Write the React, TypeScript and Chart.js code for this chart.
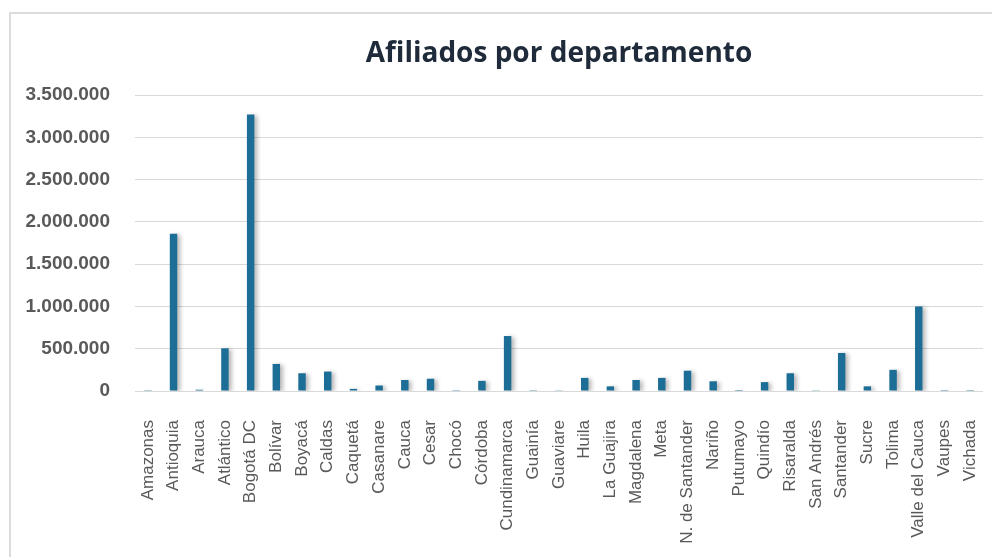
import React, { useEffect, useRef } from "react";
import { Chart, registerables } from "chart.js";

Chart.register(...registerables);

const departamentos: string[] = [
  "Amazonas", "Antioquia", "Arauca", "Atlántico", "Bogotá DC", "Bolívar", "Boyacá", "Caldas",
  "Caquetá", "Casanare", "Cauca", "Cesar", "Chocó", "Córdoba", "Cundinamarca", "Guainía",
  "Guaviare", "Huila", "La Guajira", "Magdalena", "Meta", "N. de Santander", "Nariño",
  "Putumayo", "Quindío", "Risaralda", "San Andrés", "Santander", "Sucre", "Tolima",
  "Valle del Cauca", "Vaupes", "Vichada",
];

const afiliados: number[] = [
  2000, 1860000, 15000, 505000, 3270000, 320000, 210000, 230000,
  25000, 65000, 130000, 145000, 10000, 120000, 650000, 2000,
  3000, 155000, 55000, 130000, 155000, 240000, 115000,
  12000, 105000, 210000, 3000, 450000, 55000, 250000,
  1000000, 1000, 1000,
];

const chartTitle = "Afiliados por departamento";
const yMax = 3500000;
const yStep = 500000;

const fmt = (v: number) => String(Math.round(v)).replace(/\B(?=(\d{3})+(?!\d))/g, ".");

const shadowPlugin = {
  id: "barShadow",
  beforeDatasetsDraw(chart: any) {
    const ctx = chart.ctx;
    ctx.save();
    ctx.shadowColor = "rgba(0,0,0,0.28)";
    ctx.shadowBlur = 4;
    ctx.shadowOffsetX = 3;
    ctx.shadowOffsetY = 1;
  },
  afterDatasetsDraw(chart: any) {
    chart.ctx.restore();
  },
};

export default function App() {
  const ref = useRef<HTMLCanvasElement | null>(null);

  useEffect(() => {
    if (!ref.current) return;
    const chart = new Chart(ref.current, {
      type: "bar",
      data: {
        labels: departamentos,
        datasets: [
          {
            label: "Afiliados",
            data: afiliados,
            backgroundColor: "#1c6e96",
            barPercentage: 0.29,
            categoryPercentage: 1,
          },
        ],
      },
      plugins: [shadowPlugin],
      options: {
        responsive: false,
        animation: false,
        layout: { padding: { left: 10, right: 9, top: 0, bottom: 0 } },
        plugins: {
          legend: { display: false },
          tooltip: { enabled: false },
          title: {
            display: true,
            text: chartTitle,
            fullSize: false,
            color: "#1f2b3a",
            font: { family: "'Open Sans', sans-serif", size: 28, weight: "bold", lineHeight: 1.2 },
            padding: { top: 37, bottom: 24.4 },
          },
        },
        scales: {
          x: {
            grid: { display: false },
            border: { display: false },
            afterFit: (s: any) => {
              s.height = 166;
              s.paddingLeft = 0;
              s.paddingRight = 0;
            },
            ticks: {
              minRotation: 90,
              maxRotation: 90,
              autoSkip: false,
              padding: 21,
              color: "#595959",
              font: { family: "'Liberation Sans', Arial, sans-serif", size: 17 },
            },
          },
          y: {
            min: 0,
            max: yMax,
            afterFit: (s: any) => { s.width = 125; },
            grid: { color: "#d9d9d9", lineWidth: 1, drawTicks: false },
            border: { display: false },
            ticks: {
              stepSize: yStep,
              padding: 25,
              color: "#595959",
              font: { family: "'Liberation Sans', Arial, sans-serif", size: 19, weight: "bold" },
              callback: (v: any) => fmt(Number(v)),
            },
          },
        },
      },
    });
    return () => chart.destroy();
  }, []);

  return (
    <div style={{ position: "absolute", left: 0, top: 0, width: 992, height: 557, background: "#fff", overflow: "hidden" }}>
      <div
        style={{
          position: "absolute",
          left: 9,
          top: 12,
          width: 1000,
          height: 560,
          borderLeft: "2px solid #dcdcdc",
          borderTop: "2px solid #dcdcdc",
        }}
      />
      <canvas ref={ref} width={992} height={557} style={{ position: "absolute", left: 0, top: 0, width: 992, height: 557 }} />
    </div>
  );
}
